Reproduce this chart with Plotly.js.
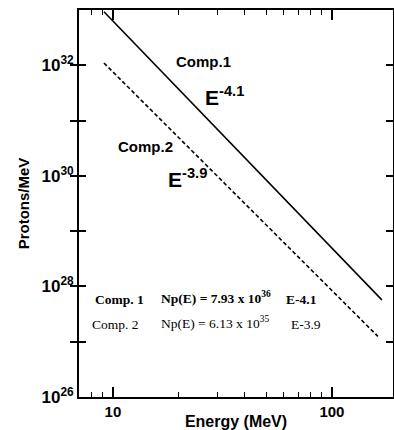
<!DOCTYPE html>
<html>
<head>
<meta charset="utf-8">
<script src="https://cdn.plot.ly/plotly-3.0.1.min.js"></script>
<style>
html,body{margin:0;padding:0;background:#fff;}
#chart{width:394px;height:430px;}
</style>
</head>
<body>
<div id="chart"></div>
<script>
// Data (straight lines on log-log axes: end points)
var energyComp1 = [9.1, 169];
var protonsComp1 = [9.3e32, 5.7e27];
var energyComp2 = [9.1, 162];
var protonsComp2 = [1.1e32, 1.25e27];

var yTickVals = [1e26, 1e27, 1e28, 1e29, 1e30, 1e31, 1e32, 1e33];
var yTickText = ['10<sup>26</sup>', '', '10<sup>28</sup>', '', '10<sup>30</sup>', '', '10<sup>32</sup>', ''];
var xTickVals = [10, 100];
var xTickText = ['10', '100'];
var xMinorVals = [8, 9, 20, 30, 40, 50, 60, 70, 80, 90];

var sansFam = 'Liberation Sans, Arial, sans-serif';
var serifFam = 'Liberation Serif, Times New Roman, serif';
function f(family, size, weight) { return {family: family, size: size, color: '#000000', weight: weight}; }

var xRange = [Math.log10(7), Math.log10(190)];
var yRange = [26, 33];
var plotW = 314, plotH = 387;

var traces = [
  {x: energyComp1, y: protonsComp1, mode: 'lines', line: {color: '#000000', width: 1.6}, showlegend: false, hoverinfo: 'skip'},
  {x: energyComp2, y: protonsComp2, mode: 'lines', line: {color: '#000000', width: 1.6, dash: '4px,2.5px'}, showlegend: false, hoverinfo: 'skip'},
  {x: energyComp1, y: protonsComp1, xaxis: 'x2', mode: 'lines', line: {color: 'rgba(0,0,0,0)', width: 0}, showlegend: false, hoverinfo: 'skip'}
];

function px(x) { return (x - 79) / plotW; }
function py(y) { return (397 - y) / plotH; }

var annotations = [
  {text: 'Comp.1', x: px(203), y: py(61), xanchor: 'center', yanchor: 'middle', font: f(sansFam, 15, 'bold')},
  {text: 'E<sup>-4.1</sup>', x: px(203), y: py(96), xanchor: 'left', yanchor: 'middle', font: f(sansFam, 21, 'bold')},
  {text: 'Comp.2', x: px(145), y: py(146), xanchor: 'center', yanchor: 'middle', font: f(sansFam, 15, 'bold')},
  {text: 'E<sup>-3.9</sup>', x: px(166), y: py(178), xanchor: 'left', yanchor: 'middle', font: f(sansFam, 21, 'bold')},
  {text: 'Comp. 1', x: px(93), y: py(299), xanchor: 'left', yanchor: 'middle', font: f(serifFam, 13.5, 'bold')},
  {text: 'Np(E) = 7.93 x 10<sup>36</sup>', x: px(159), y: py(297), xanchor: 'left', yanchor: 'middle', font: f(serifFam, 13.5, 'bold')},
  {text: 'E-4.1', x: px(284), y: py(299), xanchor: 'left', yanchor: 'middle', font: f(serifFam, 13.5, 'bold')},
  {text: 'Comp. 2', x: px(90), y: py(324), xanchor: 'left', yanchor: 'middle', font: f(serifFam, 13.5, 'normal')},
  {text: 'Np(E) = 6.13 x 10<sup>35</sup>', x: px(159), y: py(322), xanchor: 'left', yanchor: 'middle', font: f(serifFam, 13.5, 'normal')},
  {text: 'E-3.9', x: px(289), y: py(324), xanchor: 'left', yanchor: 'middle', font: f(serifFam, 13.5, 'normal')}
];
annotations.forEach(function (a) { a.xref = 'paper'; a.yref = 'paper'; a.showarrow = false; });

var layout = {
  width: 394, height: 430,
  margin: {l: 79, r: 1, t: 10, b: 33},
  paper_bgcolor: '#ffffff', plot_bgcolor: '#ffffff',
  showlegend: false,
  xaxis: {
    type: 'log', range: xRange,
    tickmode: 'array', tickvals: xTickVals, ticktext: xTickText,
    ticks: 'inside', ticklen: 10, tickwidth: 1.5, tickcolor: '#000000',
    showline: true, linecolor: '#000000', linewidth: 1.8, mirror: 'allticks',
    showgrid: false, zeroline: false,
    tickfont: f(sansFam, 15, 'bold'),
    title: {text: 'Energy (MeV)', font: f(sansFam, 16, 'bold'), standoff: 2}
  },
  xaxis2: {
    type: 'log', range: xRange, overlaying: 'x', anchor: 'y', side: 'bottom',
    tickmode: 'array', tickvals: xMinorVals,
    ticks: 'inside', ticklen: 5, tickwidth: 1.1, tickcolor: '#000000',
    showticklabels: false, showline: false, mirror: 'ticks',
    showgrid: false, zeroline: false
  },
  yaxis: {
    type: 'log', range: yRange,
    tickmode: 'array', tickvals: yTickVals, ticktext: yTickText,
    ticks: 'inside', ticklen: 7, tickwidth: 1.5, tickcolor: '#000000',
    showline: true, linecolor: '#000000', linewidth: 1.8, mirror: 'allticks',
    showgrid: false, zeroline: false,
    tickfont: f(sansFam, 17, 'bold'),
    title: {text: 'Protons/MeV', font: f(sansFam, 15, 'bold'), standoff: 8}
  },
  annotations: annotations
};

Plotly.newPlot('chart', traces, layout, {displayModeBar: false});
</script>
</body>
</html>
